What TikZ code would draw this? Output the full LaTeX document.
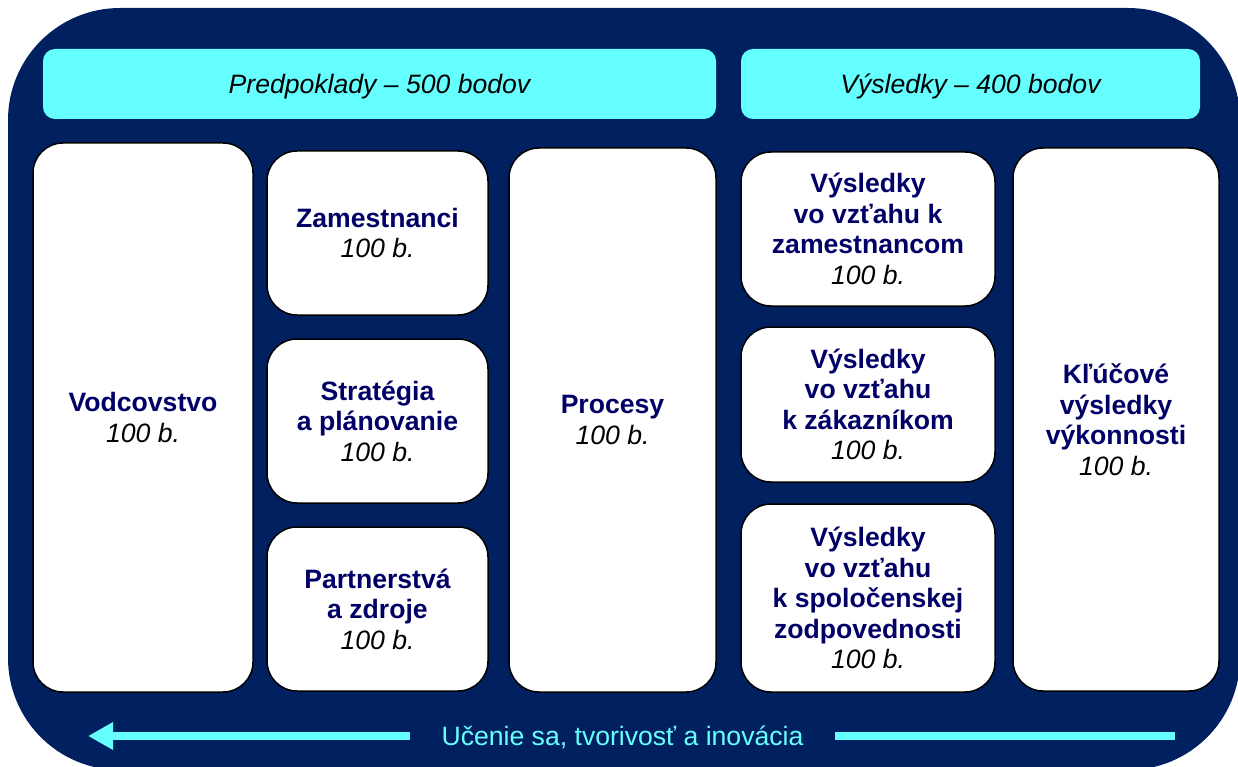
\documentclass[tikz,border=0pt]{standalone}
\usepackage{fontspec}
\setmainfont{Liberation Sans}
\usetikzlibrary{positioning,arrows.meta}
\definecolor{bgnavy}{RGB}{0,32,96}
\definecolor{txtnavy}{RGB}{0,0,102}
\definecolor{headcyan}{RGB}{102,255,255}
\newcommand{\bod}{{\mdseries\itshape\color{black}100 b.}}

\begin{document}
\begin{tikzpicture}
[
x=1pt, y=-1pt,
box-a/.style={rectangle, draw, line width=1.5pt, fill=white, rounded corners=30pt, outer sep=0pt, align=center, text=txtnavy, font=\fontsize{26.6}{30.5}\selectfont\bfseries},
head-a/.style={rectangle, fill=headcyan, rounded corners=12pt, outer sep=0pt, minimum height=70pt, text height=18.5pt, text depth=0pt, font=\fontsize{26.6}{30}\selectfont\itshape},
text-a/.style={text=headcyan, font=\fontsize{26.6}{30}\selectfont, text height=19pt, text depth=0pt, inner xsep=32pt, outer sep=0pt},
flow-a/.style={draw=headcyan, line width=8pt}
]
\useasboundingbox (0,0) rectangle (1238,767);
\fill[white] (0,0) rectangle (1238,767);
\begin{scope}
\clip (0,0) rectangle (1238,767);
\fill[bgnavy, rounded corners=112pt] (8,8) rectangle (1240,770);
\end{scope}

\node (head-1) [head-a, minimum width=673pt] at (379.5,84) {Predpoklady – 500 bodov};
\node (head-2) [head-a, minimum width=459pt] at (970.5,84) {Výsledky – 400 bodov};

\node (vod)  [box-a, minimum width=220pt, minimum height=549pt] at (143,417.5) {Vodcovstvo\\\bod};
\node (zam)  [box-a, minimum width=221pt, minimum height=164pt] at (377.5,233)   {Zamestnanci\\\bod};
\node (str)  [box-a, minimum width=221pt, minimum height=164pt, below = 24pt of zam] {Stratégia\\a plánovanie\\\bod};
\node (par)  [box-a, minimum width=221pt, minimum height=164pt, below = 24pt of str] {Partnerstvá\\a zdroje\\\bod};
\node (pro)  [box-a, minimum width=207pt, minimum height=544pt] at (612.5,420)   {Procesy\\\bod};
\node (vz-1) [box-a, minimum width=254pt, minimum height=154pt] at (868,229)     {Výsledky\\vo vzťahu k\\zamestnancom\\\bod};
\node (vz-2) [box-a, minimum width=254pt, minimum height=155pt, below = 21pt of vz-1] {Výsledky\\vo vzťahu\\k zákazníkom\\\bod};
\node (vz-3) [box-a, minimum width=254pt, minimum height=188pt, below = 22pt of vz-2] {Výsledky\\vo vzťahu\\k spoločenskej\\zodpovednosti\\\bod};
\node (klu)  [box-a, minimum width=206pt, minimum height=543pt] at (1116,419.5)  {Kľúčové\\výsledky\\výkonnosti\\\bod};

% learning loop at the bottom
\node (learn) [text-a] at (622.5,736) {Učenie sa, tvorivosť a inovácia};
\coordinate (learn-l) at (88,736);
\coordinate (learn-r) at (1175,736);
\draw [flow-a, -{Triangle[length=25pt, width=26pt]}] (learn.west) -- (learn-l);
\draw [flow-a] (learn.east) -- (learn-r);
\end{tikzpicture}
\end{document}
